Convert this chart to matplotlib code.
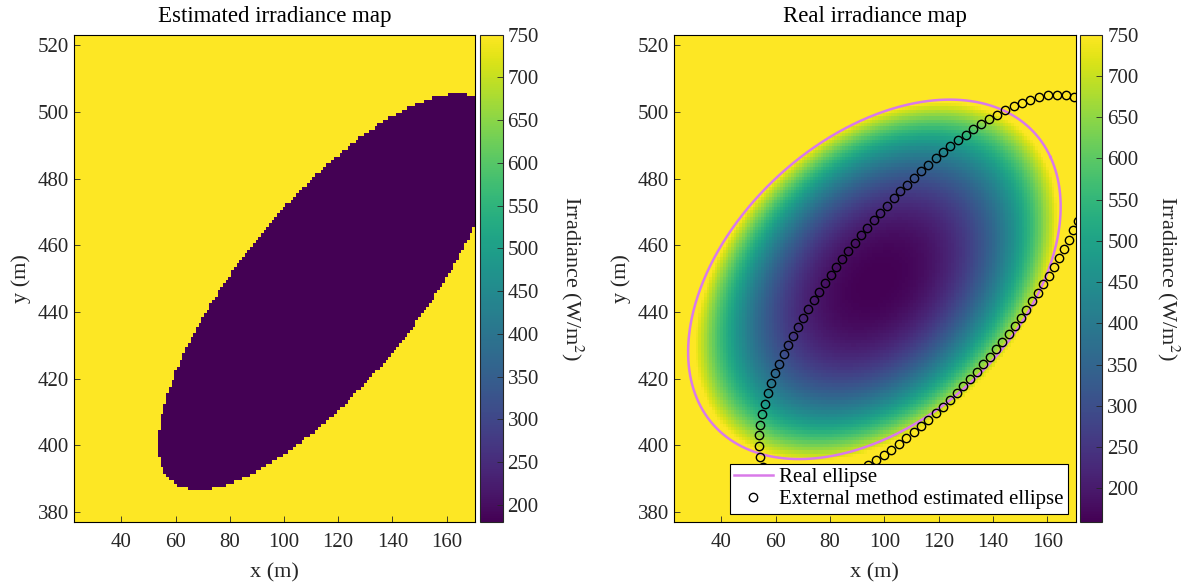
# -*- coding: utf-8 -*-
# ---- Third party imports
import matplotlib
matplotlib.use('Agg')
import matplotlib.pyplot as plt
import numpy as np

plt.rcParams['font.family'] = ['Liberation Serif', 'DejaVu Serif']
plt.rcParams['mathtext.fontset'] = 'stix'
TXT = '#262626'

# ---- Map grid (m)
x_grid = np.arange(23, 171)
y_grid = np.arange(377, 524)

# ---- Irradiance levels (W/m2)
irr_clear = 750
irr_shadow_est = 180
irr_shadow_min = 159

# ---- Real ellipse (centre, semi-axes, angle in deg)
real_center = (96.3, 449.8)
real_axes = (74.5, 45.4)
real_angle = 29.5

# Shadow gradient inside the real ellipse.
grad_center = (97.0, 449.0)
grad_axes = (72.0, 46.5)
grad_power = 2.5

# ---- Points read on the external method estimated ellipse
est_x = [53.5, 53.7, 54.4, 55.3, 56.3, 58.0, 61.2, 64.6, 70.1, 75.7, 84.0,
         93.6, 103.3, 113.7, 124.1, 133.7, 144.8, 158.6, 167.6,
         168.0, 164.4, 160.7, 156.5, 152.4, 145.5, 138.9, 131.7, 124.1,
         115.8, 108.2, 102.6, 96.7, 79.5, 70.0, 60.0, 55.7]
est_y = [398.6, 403.2, 407.2, 411.0, 414.4, 417.7, 424.0, 430.0, 438.2,
         446.0, 456.0, 465.0, 474.0, 482.0, 489.6, 494.7, 500.9, 505.0,
         505.4, 462.2, 456.5, 451.0, 446.0, 441.0, 433.8, 426.7, 418.9,
         413.6, 407.9, 402.2, 398.6, 395.4, 388.0, 386.8, 389.3, 393.6]
n_est_markers = 112

x_ticks = [40, 60, 80, 100, 120, 140, 160]
y_ticks = [380, 400, 420, 440, 460, 480, 500, 520]
cb_ticks = [200, 250, 300, 350, 400, 450, 500, 550, 600, 650, 700, 750]


def fit_ellipse(x, y):
    """Least squares conic fit, returns centre and the normalized matrix."""
    x = np.asarray(x, float)
    y = np.asarray(y, float)
    mx, my = x.mean(), y.mean()
    xs, ys = x - mx, y - my
    D = np.column_stack([xs**2, xs * ys, ys**2, xs, ys])
    A, B, C, Dx, Ey = np.linalg.lstsq(D, np.ones_like(xs), rcond=None)[0]
    M = np.array([[A, B / 2], [B / 2, C]])
    g = np.array([Dx, Ey])
    p0 = -0.5 * np.linalg.solve(M, g)
    k = 1 + p0 @ M @ p0
    return p0 + np.array([mx, my]), M / k


def ellipse_radius(X, Y, center, axes_, angle_deg):
    th = np.deg2rad(angle_deg)
    dx, dy = X - center[0], Y - center[1]
    u = dx * np.cos(th) + dy * np.sin(th)
    v = -dx * np.sin(th) + dy * np.cos(th)
    return np.sqrt((u / axes_[0])**2 + (v / axes_[1])**2)


X, Y = np.meshgrid(x_grid, y_grid)

# ---- Estimated map (binary shadow)
est_c, est_M = fit_ellipse(est_x, est_y)
dX, dY = X - est_c[0], Y - est_c[1]
q = est_M[0, 0] * dX**2 + 2 * est_M[0, 1] * dX * dY + est_M[1, 1] * dY**2
est_map = np.where(q <= 1, irr_shadow_est, irr_clear)

# Markers along the estimated ellipse, equally spaced along its length.
w, V = np.linalg.eigh(est_M)
t = np.linspace(0, 2 * np.pi, 4001)
pts = est_c[:, None] + V @ (np.vstack([np.cos(t), np.sin(t)])
                             / np.sqrt(w)[:, None])
seg = np.hypot(np.diff(pts[0]), np.diff(pts[1]))
s = np.concatenate([[0], np.cumsum(seg)])
s_mk = np.linspace(0, s[-1], n_est_markers, endpoint=False)
mk_x = np.interp(s_mk, s, pts[0])
mk_y = np.interp(s_mk, s, pts[1])

# ---- Real map (gradient shadow)
r = ellipse_radius(X, Y, grad_center, grad_axes, real_angle)
real_map = irr_shadow_min + (irr_clear - irr_shadow_min) * np.clip(
    r, 0, 1)**grad_power

th = np.deg2rad(real_angle)
tt = np.linspace(0, 2 * np.pi, 600)
re_x = (real_center[0] + real_axes[0] * np.cos(tt) * np.cos(th)
        - real_axes[1] * np.sin(tt) * np.sin(th))
re_y = (real_center[1] + real_axes[0] * np.cos(tt) * np.sin(th)
        + real_axes[1] * np.sin(tt) * np.cos(th))

# ---- Plot
fig = plt.figure(figsize=(11.92, 5.85), dpi=100)
bottom, height = 0.1077, 0.8330
ax1 = fig.add_axes([0.0621, bottom, 0.3364, height])
cax1 = fig.add_axes([0.4029, bottom, 0.0188, height])
ax2 = fig.add_axes([0.5654, bottom, 0.3372, height])
cax2 = fig.add_axes([0.9060, bottom, 0.0188, height])

extent = [x_grid[0] - 0.5, x_grid[-1] + 0.5, y_grid[0] - 0.5, y_grid[-1] + 0.5]
im1 = ax1.imshow(est_map, origin='lower', extent=extent, aspect='auto',
                 interpolation='nearest', cmap='viridis',
                 vmin=irr_shadow_est, vmax=irr_clear)
im2 = ax2.imshow(real_map, origin='lower', extent=extent, aspect='auto',
                 interpolation='nearest', cmap='viridis',
                 vmin=irr_shadow_min, vmax=irr_clear)

l1, = ax2.plot(re_x, re_y, '-', color='#d97ae9', lw=1.8)
l2, = ax2.plot(mk_x, mk_y, 'o', mfc='none', mec='black', ms=6, mew=1.0)
ax2.legend([l1, l2], ['Real ellipse', 'External method estimated ellipse'],
           loc='lower right', fontsize=15, frameon=True, fancybox=False,
           framealpha=1, edgecolor='black', borderaxespad=0.4,
           borderpad=0.2, labelspacing=0.12, handlelength=1.85,
           handletextpad=0.3).get_frame().set_linewidth(0.8)

for ax, title in [(ax1, 'Estimated irradiance map'),
                  (ax2, 'Real irradiance map')]:
    ax.set_xlim(22.5, 170.5)
    ax.set_ylim(377.0, 523.2)
    ax.set_xticks(x_ticks)
    ax.set_yticks(y_ticks)
    ax.tick_params(direction='in', length=4, width=0.6, labelsize=15,
                   colors=TXT, labelcolor=TXT)
    ax.tick_params(axis='x', pad=8)
    ax.set_xlabel('x (m)', fontsize=16, color=TXT, labelpad=8)
    ax.set_ylabel('y (m)', fontsize=16, color=TXT, labelpad=5)
    ax.set_title(title, fontsize=16.5, color='black', pad=9)
    for sp in ax.spines.values():
        sp.set_linewidth(0.8)
        sp.set_color('black')

for im, cax, lpad in [(im1, cax1, 33), (im2, cax2, 31)]:
    cb = fig.colorbar(im, cax=cax, ticks=cb_ticks)
    cb.ax.tick_params(direction='in', length=4, width=0.6, labelsize=15,
                      colors=TXT, labelcolor=TXT)
    cb.outline.set_linewidth(0.8)
    cb.outline.set_edgecolor(TXT)
    cb.set_label('Irradiance (W/m$^2$)', rotation=270, fontsize=16,
                 color=TXT, labelpad=lpad)

fig.savefig('out.png', dpi=100)
